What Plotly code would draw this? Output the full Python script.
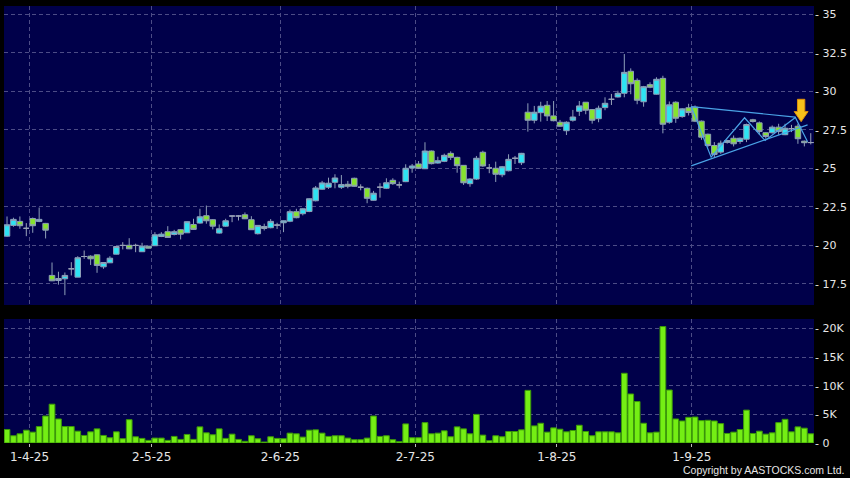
import plotly.graph_objects as go

# ---------------- data ----------------
dates = [
    "2025-03-26", "2025-03-27", "2025-03-28", "2025-03-31",
    "2025-04-01", "2025-04-02", "2025-04-03", "2025-04-07", "2025-04-08", "2025-04-09",
    "2025-04-10", "2025-04-11", "2025-04-14", "2025-04-15", "2025-04-16", "2025-04-17",
    "2025-04-22", "2025-04-23", "2025-04-24", "2025-04-25", "2025-04-28", "2025-04-29",
    "2025-04-30",
    "2025-05-02", "2025-05-06", "2025-05-07", "2025-05-08", "2025-05-09", "2025-05-12",
    "2025-05-13", "2025-05-14", "2025-05-15", "2025-05-16", "2025-05-19", "2025-05-20",
    "2025-05-21", "2025-05-22", "2025-05-23", "2025-05-26", "2025-05-27", "2025-05-28",
    "2025-05-29", "2025-05-30",
    "2025-06-02", "2025-06-03", "2025-06-04", "2025-06-05", "2025-06-06", "2025-06-09",
    "2025-06-10", "2025-06-11", "2025-06-12", "2025-06-13", "2025-06-16", "2025-06-17",
    "2025-06-18", "2025-06-19", "2025-06-20", "2025-06-23", "2025-06-24", "2025-06-25",
    "2025-06-26", "2025-06-27", "2025-06-30",
    "2025-07-02", "2025-07-03", "2025-07-04", "2025-07-07", "2025-07-08", "2025-07-09",
    "2025-07-10", "2025-07-11", "2025-07-14", "2025-07-15", "2025-07-16", "2025-07-17",
    "2025-07-18", "2025-07-21", "2025-07-22", "2025-07-23", "2025-07-24", "2025-07-25",
    "2025-07-28", "2025-07-29", "2025-07-30", "2025-07-31",
    "2025-08-01", "2025-08-04", "2025-08-05", "2025-08-06", "2025-08-07", "2025-08-08",
    "2025-08-11", "2025-08-12", "2025-08-13", "2025-08-14", "2025-08-15", "2025-08-18",
    "2025-08-19", "2025-08-20", "2025-08-21", "2025-08-22", "2025-08-25", "2025-08-26",
    "2025-08-27", "2025-08-28", "2025-08-29",
    "2025-09-01", "2025-09-02", "2025-09-03", "2025-09-04", "2025-09-05", "2025-09-08",
    "2025-09-09", "2025-09-10", "2025-09-11", "2025-09-12", "2025-09-15", "2025-09-16",
    "2025-09-17", "2025-09-18", "2025-09-19", "2025-09-22", "2025-09-23", "2025-09-24",
    "2025-09-25",
]

opens = [
    20.59, 21.29, 21.55, 21.10, 21.74, 21.55, 21.42, 18.04, 17.71, 17.82,
    18.47, 17.93, 19.27, 19.29, 19.38, 18.60, 18.86, 19.42, 19.99, 20.00,
    19.99, 19.58, 19.94, 19.97, 20.57, 20.88, 20.70, 21.01, 20.81, 21.35,
    21.44, 21.92, 21.66, 20.79, 21.24, 21.90, 21.90, 21.98, 21.66, 20.75,
    21.22, 21.14, 21.31, 21.46, 21.56, 22.18, 22.05, 22.19, 22.89, 23.64,
    23.77, 24.09, 23.77, 23.96, 24.35, 23.77, 23.70, 22.92, 23.77, 23.70,
    24.22, 23.92, 24.13, 25.02, 25.28, 24.97, 26.12, 25.34, 25.45, 25.97,
    25.71, 25.19, 24.00, 24.30, 26.04, 25.02, 25.00, 24.58, 24.84, 25.65,
    25.36, 28.64, 28.12, 28.61, 29.09, 28.40, 27.99, 27.44, 28.12, 28.70,
    29.29, 28.81, 28.22, 28.94, 29.48, 29.63, 29.87, 31.30, 30.71, 29.32,
    30.43, 29.81, 30.84, 27.99, 29.29, 28.36, 28.93, 28.97, 28.06, 27.21,
    26.48, 26.05, 26.68, 26.95, 26.74, 26.89, 28.15, 27.95, 27.31, 27.31,
    27.67, 27.18, 27.58, 27.73, 26.76, 26.67,
]
highs = [
    21.87, 21.79, 21.87, 21.44, 21.80, 22.45, 21.45, 18.88, 18.28, 18.23,
    18.90, 19.29, 19.66, 19.35, 19.40, 18.90, 19.29, 19.95, 20.20, 20.46,
    20.10, 20.16, 19.95, 20.85, 20.85, 21.24, 21.00, 21.05, 21.55, 21.72,
    22.37, 22.58, 21.70, 21.35, 21.72, 21.92, 21.95, 22.13, 21.89, 21.30,
    21.40, 21.70, 21.46, 21.60, 22.32, 22.37, 22.40, 23.05, 23.85, 24.18,
    24.39, 24.61, 24.56, 24.18, 24.39, 23.96, 23.75, 23.53, 24.03, 24.35,
    24.35, 24.13, 25.26, 25.28, 25.47, 26.69, 26.15, 25.75, 25.95, 26.10,
    25.75, 25.20, 24.35, 25.80, 26.14, 25.28, 25.43, 25.15, 25.91, 25.80,
    26.00, 29.22, 29.05, 29.32, 29.37, 29.37, 28.14, 28.05, 28.79, 29.37,
    29.30, 28.85, 29.07, 29.61, 29.83, 30.04, 32.42, 31.49, 30.84, 30.35,
    30.58, 30.91, 31.01, 29.34, 29.35, 28.90, 29.19, 29.08, 28.10, 27.25,
    26.70, 26.80, 26.85, 27.13, 27.00, 27.90, 28.21, 28.04, 27.35, 27.78,
    27.89, 27.89, 27.82, 27.89, 26.80, 27.28,
]
lows = [
    20.55, 21.20, 21.07, 20.59, 20.81, 21.50, 20.44, 17.67, 17.44, 16.76,
    18.04, 17.93, 19.12, 18.72, 18.21, 18.47, 18.86, 19.40, 19.73, 19.75,
    19.55, 19.58, 19.80, 19.95, 20.53, 20.50, 20.64, 20.38, 20.80, 21.00,
    21.40, 21.40, 21.03, 20.75, 21.20, 21.50, 21.61, 21.70, 21.00, 20.70,
    20.96, 21.10, 21.06, 20.85, 21.50, 21.75, 21.94, 22.15, 22.85, 23.60,
    23.66, 23.70, 23.66, 23.70, 23.80, 23.57, 22.73, 22.90, 23.09, 23.65,
    23.92, 23.70, 24.10, 24.71, 24.95, 24.95, 25.25, 25.30, 25.40, 25.54,
    24.71, 23.92, 23.80, 24.24, 25.10, 24.68, 24.11, 24.42, 24.80, 25.28,
    25.21, 27.38, 27.92, 28.03, 28.07, 28.05, 27.70, 27.16, 28.03, 28.40,
    28.51, 27.90, 27.99, 28.77, 29.11, 29.60, 29.61, 29.81, 29.16, 29.00,
    30.20, 29.78, 27.27, 27.89, 27.95, 28.28, 28.43, 28.00, 26.85, 26.37,
    25.72, 25.94, 26.60, 26.42, 26.59, 26.70, 27.97, 27.18, 26.92, 27.25,
    27.18, 27.15, 27.35, 26.59, 26.42, 26.55,
]
closes = [
    21.33, 21.68, 21.27, 21.10, 21.27, 21.68, 20.98, 17.69, 17.84, 18.04,
    18.47, 19.19, 19.27, 19.12, 18.69, 18.88, 19.16, 19.92, 19.99, 19.77,
    19.99, 19.94, 19.81, 20.68, 20.72, 20.51, 20.88, 20.72, 21.53, 21.03,
    21.85, 21.59, 21.24, 21.07, 21.59, 21.90, 21.90, 21.72, 21.01, 21.29,
    21.09, 21.55, 21.31, 21.59, 22.18, 21.79, 22.37, 23.02, 23.72, 24.05,
    24.03, 24.37, 23.94, 23.83, 23.83, 23.77, 23.05, 23.38, 23.77, 24.06,
    24.00, 23.92, 25.00, 25.15, 25.00, 26.12, 25.30, 25.49, 25.84, 25.71,
    25.17, 24.06, 24.30, 25.65, 25.15, 25.02, 24.61, 25.10, 25.58, 25.65,
    25.97, 28.12, 28.64, 29.03, 28.40, 28.09, 27.73, 27.99, 28.33, 29.05,
    28.77, 28.12, 28.90, 29.22, 29.48, 29.87, 31.23, 30.49, 29.42, 30.30,
    30.26, 30.78, 27.86, 29.12, 28.25, 28.86, 28.62, 28.06, 27.02, 26.48,
    25.90, 26.63, 26.80, 26.59, 26.95, 27.84, 28.04, 27.39, 27.06, 27.67,
    27.39, 27.60, 27.58, 26.92, 26.66, 26.67,
]
volumes = [
    2360, 1265, 1610, 2240, 1900, 2875, 4715, 6785, 4200, 2875,
    2875, 2070, 1320, 1955, 2470, 1320, 920, 1955, 750, 4080,
    1090, 805, 460, 860, 860, 460, 1150, 630, 1495, 630,
    2820, 1780, 1440, 2470, 805, 1550, 630, 290, 1265, 750,
    170, 1090, 805, 750, 1725, 1610, 1035, 2240, 2300, 1725,
    1150, 1265, 1265, 860, 575, 575, 860, 4715, 1150, 1265,
    575, 230, 3335, 920, 920, 3565, 1610, 1725, 2130, 1090,
    2820, 2470, 1610, 5000, 1380, 400, 1265, 1090, 2010, 2010,
    2300, 9200, 2990, 3450, 1900, 2645, 2415, 1955, 2185, 3105,
    2010, 1265, 1955, 1955, 1955, 1780, 12190, 8570, 7245, 3450,
    1780, 1900, 20355, 9260, 4200, 3850, 4485, 4540, 3910, 3970,
    3850, 3390, 1670, 1900, 2360, 5750, 1670, 2070, 1550, 1780,
    3565, 4140, 1955, 2820, 2590, 1610,
]

month_ticks = ["2025-04-01", "2025-05-02", "2025-06-02", "2025-07-02", "2025-08-01", "2025-09-01"]
month_labels = ["1-4-25", "2-5-25", "2-6-25", "2-7-25", "1-8-25", "1-9-25"]
price_ticks = [17.5, 20, 22.5, 25, 27.5, 30, 32.5, 35]
price_labels = ["- 17.5", "- 20", "- 22.5", "- 25", "- 27.5", "- 30", "- 32.5", "- 35"]
vol_ticks = [0, 5000, 10000, 15000, 20000]
vol_labels = ["- 0", "- 5K", "- 10K", "- 15K", "- 20K"]

# triangle pattern drawn on chart: (trading-day position, price)
tri_upper = [(106.4, 29.01), (122.6, 28.32)]
tri_lower = [(106.4, 25.16), (124.5, 27.82)]
tri_zigzag = [(106.4, 29.01), (109.5, 25.72), (114.7, 28.28), (117.9, 26.80), (122.6, 28.30), (124.5, 26.72)]
signal_arrow = {"pos": 123.5, "top": 29.48, "neck": 28.68, "tip": 28.03}

# ---------------- styling ----------------
BG = "#00004A"
CYAN = "#2DE3F3"
GREEN = "#86E22E"
EDGE = "#8E9FB8"
DOJI = "#9AA3B8"
GRID = "#4C4C86"
TXT = "#E6E6E6"
FONT = "DejaVu Sans"

n = len(dates)
x = list(range(n))
pos_of = {d: i for i, d in enumerate(dates)}
tickpos = [pos_of[d] - 0.5 for d in month_ticks]


def subset(kind):
    o, h, l, c = [], [], [], []
    for i in range(n):
        if opens[i] == closes[i]:
            k = "doji"
        elif closes[i] > opens[i]:
            k = "up"
        else:
            k = "down"
        keep = k == kind
        o.append(opens[i] if keep else None)
        h.append(highs[i] if keep else None)
        l.append(lows[i] if keep else None)
        c.append(closes[i] if keep else None)
    return o, h, l, c


fig = go.Figure()

for kind, fill, edge in [("up", CYAN, EDGE), ("down", GREEN, EDGE), ("doji", DOJI, DOJI)]:
    o, h, l, c = subset(kind)
    fig.add_trace(go.Candlestick(
        x=x, open=o, high=h, low=l, close=c,
        increasing=dict(fillcolor=fill, line=dict(color=edge, width=1)),
        decreasing=dict(fillcolor=fill, line=dict(color=edge, width=1)),
        whiskerwidth=0, showlegend=False, xaxis="x", yaxis="y",
        hovertext=dates, name=kind,
    ))

for seg in (tri_upper, tri_lower, tri_zigzag):
    fig.add_trace(go.Scatter(
        x=[p[0] for p in seg], y=[p[1] for p in seg], mode="lines",
        line=dict(color="#4AA3E6", width=1.2), showlegend=False, hoverinfo="skip",
        xaxis="x", yaxis="y",
    ))

fig.add_trace(go.Bar(
    x=x, y=volumes, marker=dict(color="#74EE14", line=dict(color="#3C9A08", width=1)),
    showlegend=False, xaxis="x2", yaxis="y2", hovertext=dates,
))

# yellow signal arrow
a = signal_arrow
sw, hw = 0.57, 1.08
path = (f"M {a['pos']-sw},{a['top']} L {a['pos']+sw},{a['top']} L {a['pos']+sw},{a['neck']} "
        f"L {a['pos']+hw},{a['neck']} L {a['pos']},{a['tip']} L {a['pos']-hw},{a['neck']} "
        f"L {a['pos']-sw},{a['neck']} Z")
fig.add_shape(type="path", path=path, xref="x", yref="y",
              fillcolor="#F6C21A", line=dict(color="#DE8F0A", width=1), layer="above")

xcommon = dict(range=[-0.47, 125.5], tickmode="array", tickvals=tickpos,
               showgrid=True, gridcolor=GRID, griddash="4px,3px", gridwidth=1,
               zeroline=False, showline=False, fixedrange=True, automargin=False)
ycommon = dict(side="right", tickmode="array", ticks="", showgrid=True, gridcolor=GRID,
               griddash="4px,3px", zeroline=False, fixedrange=True, automargin=False,
               tickfont=dict(size=11, color=TXT), ticklabelstandoff=0)

fig.update_layout(
    width=850, height=478,
    margin=dict(l=4, r=36, t=6, b=35, autoexpand=False),
    paper_bgcolor="#000000", plot_bgcolor=BG,
    font=dict(family=FONT, size=11, color=TXT),
    boxgap=0.1, boxgroupgap=0.05, bargap=0.11,
    xaxis=dict(domain=[0, 1], anchor="y", showticklabels=False, ticks="",
               rangeslider=dict(visible=False), **xcommon),
    yaxis=dict(domain=[0.3158, 1], range=[16.12, 35.54],
               tickvals=price_ticks, ticktext=price_labels, **ycommon),
    xaxis2=dict(domain=[0, 1], anchor="y2", ticktext=month_labels, ticks="outside",
                ticklen=3, tickcolor="#BBBBBB", tickfont=dict(size=12, color=TXT),
                ticklabelstandoff=0,
                rangeslider=dict(visible=False), **xcommon),
    yaxis2=dict(domain=[0, 0.2838], range=[0, 21680],
                tickvals=vol_ticks, ticktext=vol_labels, **ycommon),
    annotations=[dict(text="Copyright by AASTOCKS.com Ltd.", xref="paper", yref="paper",
                      x=1.0395, y=-0.0801, xanchor="right", yanchor="bottom", showarrow=False,
                      font=dict(family="Liberation Sans", size=10.5, color=TXT))],
)

fig.write_html("out.html", config={"displayModeBar": False},
               post_script="document.body.style.margin='0';")
